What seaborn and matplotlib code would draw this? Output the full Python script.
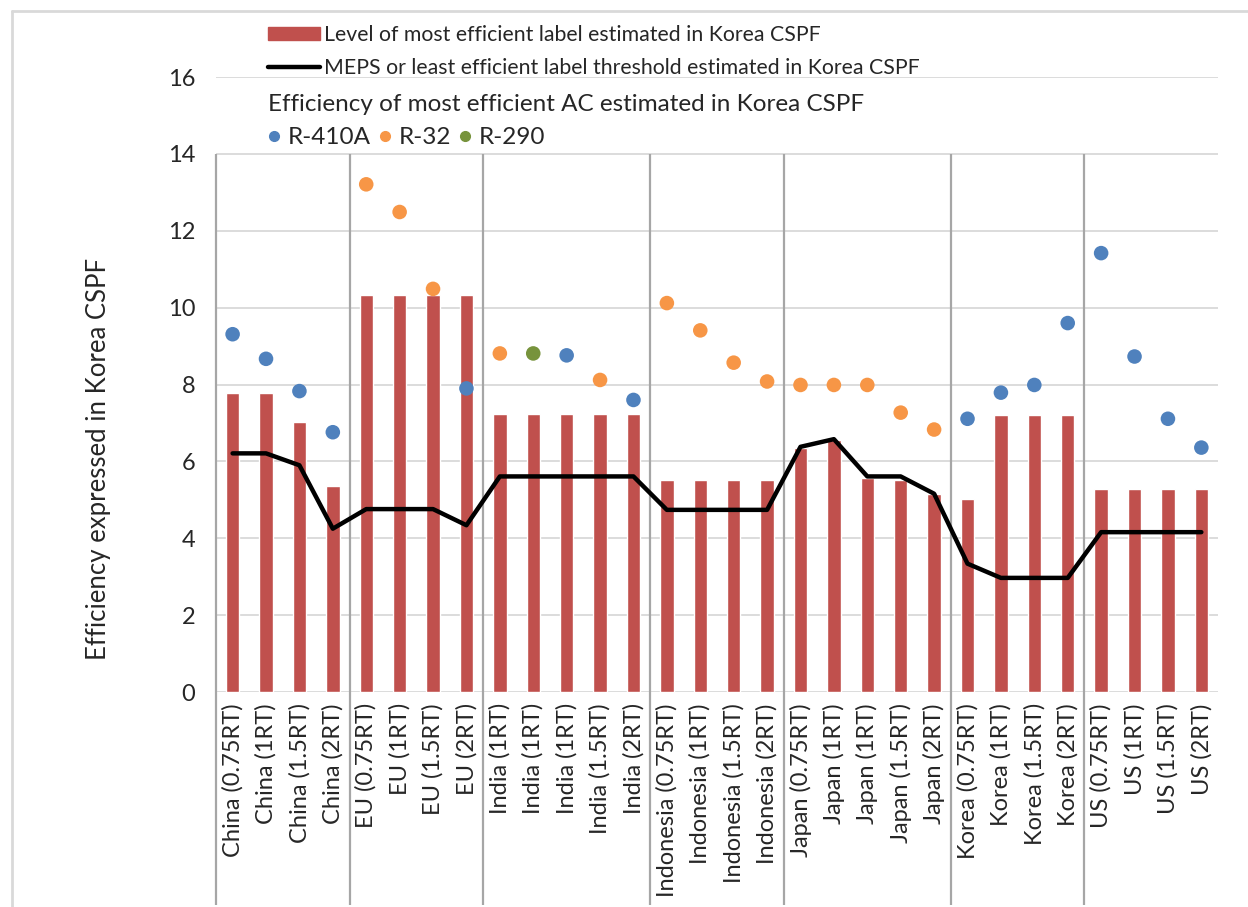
import numpy as np
import pandas as pd
import seaborn as sns
import matplotlib.pyplot as plt
from matplotlib.lines import Line2D
from matplotlib.patches import Patch

labels = ["China (0.75RT)", "China (1RT)", "China (1.5RT)", "China (2RT)",
          "EU (0.75RT)", "EU (1RT)", "EU (1.5RT)", "EU (2RT)",
          "India (1RT)", "India (1RT)", "India (1RT)", "India (1.5RT)", "India (2RT)",
          "Indonesia (0.75RT)", "Indonesia (1RT)", "Indonesia (1.5RT)", "Indonesia (2RT)",
          "Japan (0.75RT)", "Japan (1RT)", "Japan (1RT)", "Japan (1.5RT)", "Japan (2RT)",
          "Korea (0.75RT)", "Korea (1RT)", "Korea (1.5RT)", "Korea (2RT)",
          "US (0.75RT)", "US (1RT)", "US (1.5RT)", "US (2RT)"]
group_sizes = [4, 4, 5, 4, 5, 4, 4]

best_label = [7.79, 7.79, 7.02, 5.36,
              10.32, 10.32, 10.32, 10.32,
              7.24, 7.24, 7.24, 7.24, 7.24,
              5.53, 5.53, 5.53, 5.53,
              6.36, 6.57, 5.57, 5.53, 5.16,
              5.02, 7.22, 7.22, 7.22,
              5.29, 5.29, 5.29, 5.29]
meps = [6.21, 6.21, 5.90, 4.25,
        4.76, 4.76, 4.76, 4.34,
        5.61, 5.61, 5.61, 5.61, 5.61,
        4.74, 4.74, 4.74, 4.74,
        6.38, 6.58, 5.61, 5.61, 5.16,
        3.34, 2.97, 2.97, 2.97,
        4.16, 4.16, 4.16, 4.16]
best_ac = [9.31, 8.67, 7.83, 6.76,
           13.21, 12.49, 10.49, 7.90,
           8.81, 8.81, 8.76, 8.12, 7.60,
           10.12, 9.41, 8.57, 8.08,
           7.99, 7.99, 7.99, 7.27, 6.83,
           7.11, 7.79, 7.99, 9.60,
           11.42, 8.73, 7.11, 6.36]
refrigerant = ["R-410A", "R-410A", "R-410A", "R-410A",
               "R-32", "R-32", "R-32", "R-410A",
               "R-32", "R-290", "R-410A", "R-32", "R-410A",
               "R-32", "R-32", "R-32", "R-32",
               "R-32", "R-32", "R-32", "R-32", "R-32",
               "R-410A", "R-410A", "R-410A", "R-410A",
               "R-410A", "R-410A", "R-410A", "R-410A"]
ref_order = ["R-410A", "R-32", "R-290"]
ref_colors = {"R-410A": "#4F81BD", "R-32": "#F79646", "R-290": "#77933C"}

df = pd.DataFrame({"pos": np.arange(len(labels)), "label": labels,
                   "best_label": best_label, "meps": meps,
                   "best_ac": best_ac, "refrigerant": refrigerant})

sns.set_style("white")
plt.rcParams["font.family"] = ["Lato", "DejaVu Sans"]

fig = plt.figure(figsize=(12.48, 9.07), dpi=100)
ax = fig.add_axes([0.173, 0.237, 0.803, 0.678])

sns.barplot(data=df, x="pos", y="best_label", color="#C0504D", width=0.4,
            saturation=1, ax=ax, zorder=2)
sns.lineplot(data=df, x="pos", y="meps", color="black", lw=3.2, ax=ax, zorder=3)
sns.scatterplot(data=df, x="pos", y="best_ac", hue="refrigerant", hue_order=ref_order,
                palette=ref_colors, s=110, linewidth=0, ax=ax, zorder=4, legend=False)

ax.set_xlim(-0.5, len(labels) - 0.5)
ax.set_ylim(0, 16)
ax.set_yticks(np.arange(0, 17, 2))
ax.set_xticks(df["pos"])
ax.set_xticklabels(labels, rotation=90, fontsize=17)
ax.tick_params(axis="y", labelsize=17, pad=15)
ax.tick_params(axis="x", pad=8)
ax.tick_params(length=0)
ax.set_axisbelow(True)
ax.yaxis.grid(True, color="#D9D9D9", lw=1.3)
ax.set_xlabel("")
ax.set_ylabel("Efficiency expressed in Korea CSPF", fontsize=18.5)
ax.yaxis.set_label_coords(-0.105, 0.379)
sns.despine(ax=ax, left=True, bottom=True)

# group separators
bounds = np.concatenate([[-0.5], np.cumsum(group_sizes)[:-1] - 0.5])
ax.vlines(bounds, -0.346, 0.875, transform=ax.get_xaxis_transform(),
          colors="#A6A6A6", lw=1.6, clip_on=False)

# chart border (top and left only)
fig.add_artist(Line2D([0.0096, 0.0096], [0, 0.988], color="#D9D9D9", lw=2))
fig.add_artist(Line2D([0.0096, 1], [0.988, 0.988], color="#D9D9D9", lw=2))

h1 = [Patch(color="#C0504D"), Line2D([], [], color="black", lw=3.2)]
leg1 = fig.legend(h1, ["Level of most efficient label estimated in Korea CSPF",
                       "MEPS or least efficient label threshold estimated in Korea CSPF"],
                  loc="upper left", bbox_to_anchor=(268 / 1248, 1 - 25 / 907),
                  frameon=False, fontsize=15.3, handlelength=2.45, handleheight=0.62,
                  handletextpad=0.2, labelspacing=0.6, borderpad=0, borderaxespad=0)

h2 = [Line2D([], [], marker="o", ls="", color=ref_colors[r], markersize=7) for r in ref_order]
leg2 = fig.legend(h2, ref_order, ncol=3, title="Efficiency of most efficient AC estimated in Korea CSPF",
                  title_fontsize=17.5, fontsize=17.5, alignment="left",
                  loc="upper left", bbox_to_anchor=(268 / 1248, 1 - 94 / 907),
                  frameon=False, handlelength=0.5, handletextpad=0.3, columnspacing=0.35,
                  borderpad=0, borderaxespad=0)

fig.savefig("out.png", dpi=100)
